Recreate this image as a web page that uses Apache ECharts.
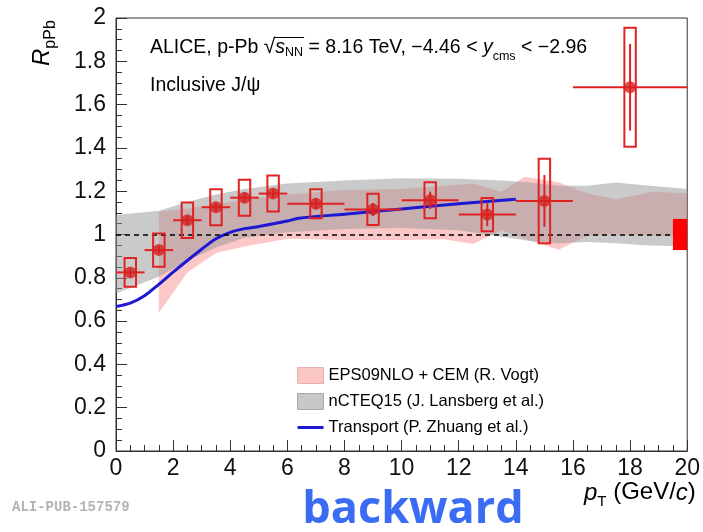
<!DOCTYPE html>
<html><head><meta charset="utf-8">
<script src="https://cdn.jsdelivr.net/npm/echarts@6/dist/echarts.min.js"></script>
<style>html,body{margin:0;padding:0;background:#fff}#c{width:703px;height:532px}</style>
</head><body><div id="c"></div>
<script>
// ---- data ----
const ptCenters = [0.5, 1.5, 2.5, 3.5, 4.5, 5.5, 7, 9, 11, 13, 15, 18];
const ptLow     = [0, 1, 2, 3, 4, 5, 6, 8, 10, 12, 14, 16];
const ptHigh    = [1, 2, 3, 4, 5, 6, 8, 10, 12, 14, 16, 20];
const rpPb      = [0.825, 0.928, 1.066, 1.126, 1.170, 1.189, 1.142, 1.116, 1.158, 1.092, 1.155, 1.680];
const statErr   = [0.02, 0.02, 0.02, 0.02, 0.02, 0.02, 0.025, 0.03, 0.04, 0.053, 0.12, 0.2];
const sysErr    = [0.066, 0.077, 0.082, 0.083, 0.083, 0.083, 0.067, 0.072, 0.083, 0.077, 0.195, 0.275];
const globalUnc = 0.072;

const transportX = [0, 0.5, 1, 1.5, 2, 2.5, 3, 3.5, 4, 4.5, 5, 6, 6.4, 8, 10, 12, 14];
const transportY = [0.667, 0.683, 0.717, 0.77, 0.826, 0.88, 0.932, 0.98, 1.01, 1.027, 1.037, 1.062, 1.075, 1.094, 1.118, 1.142, 1.163];

const ncteqX  = [0, 1.5, 2.5, 3.5, 4.5, 6, 8, 10, 12, 13.5, 14.5, 15.5, 16.5, 17.5, 18.5, 20];
const ncteqLo = [0.728, 0.805, 0.88, 0.94, 0.985, 1.01, 1.025, 1.03, 1.02, 0.99, 0.97, 0.96, 0.965, 0.96, 0.95, 0.944];
const ncteqHi = [1.09, 1.11, 1.15, 1.185, 1.21, 1.235, 1.25, 1.26, 1.258, 1.25, 1.24, 1.225, 1.225, 1.24, 1.228, 1.21];

const epsX  = [1.5, 2.5, 3.5, 4.5, 6, 8, 10, 11.5, 12.5, 13.5, 14.3, 15.5, 16.5, 17.5, 18.8, 20];
const epsLo = [0.638, 0.825, 0.915, 0.945, 0.98, 0.975, 0.975, 0.978, 0.956, 1.02, 0.98, 0.93, 0.995, 1.0, 0.995, 0.99];
const epsHi = [1.105, 1.12, 1.14, 1.16, 1.185, 1.205, 1.21, 1.225, 1.235, 1.198, 1.267, 1.24, 1.19, 1.163, 1.198, 1.19];

const xTicks = [0, 2, 4, 6, 8, 10, 12, 14, 16, 18, 20];
const yTicks = [0, 0.2, 0.4, 0.6, 0.8, 1, 1.2, 1.4, 1.6, 1.8, 2];

const legendNames = ['EPS09NLO + CEM (R. Vogt)', 'nCTEQ15 (J. Lansberg et al.)', 'Transport (P. Zhuang et al.)'];

// ---- styles ----
const FONT = 'Liberation Sans, Arial, Helvetica, sans-serif';
const RED_LINE = '#e02222';
const RED_MARK = '#d42020';
const BLUE = '#1c18d4';
const BOX_HALF = 0.2;
const PINK = 'rgba(244,100,100,0.36)';
const GREY = 'rgba(150,150,150,0.5)';

const ctx = document.createElement('canvas').getContext('2d');
function measure(t, size, italic, family) {
  ctx.font = (italic ? 'italic ' : '') + size + 'px ' + (family || FONT);
  return ctx.measureText(t).width;
}
function pieces(x, baseline, list) {
  const out = []; let cx = x; const pos = [];
  list.forEach(p => {
    const w = measure(p.t, p.s, p.i);
    pos.push({x0: cx, x1: cx + w});
    out.push({type: 'text', x: cx, y: baseline + (p.dy || 0) - 0.34 * p.s,
      style: {text: p.t, font: (p.i ? 'italic ' : '') + p.s + 'px ' + FONT, fill: p.c || '#000',
        align: 'left', verticalAlign: 'middle'}, silent: true});
    cx += w;
  });
  return {els: out, pos};
}

function bandSeries(name, xs, lo, hi, color, z) {
  const pts = xs.map((x, i) => [x, lo[i], hi[i]]);
  return {
    type: 'custom', name, z, coordinateSystem: 'cartesian2d', data: pts,
    encode: {x: 0, y: [1, 2]}, itemStyle: {color}, silent: true,
    renderItem(params, api) {
      if (params.dataIndex !== 0) return null;
      const up = pts.map(p => api.coord([p[0], p[2]]));
      const dn = pts.map(p => api.coord([p[0], p[1]])).reverse();
      return {type: 'polygon', shape: {points: up.concat(dn)}, style: {fill: color}};
    }
  };
}

const chart = echarts.init(document.getElementById('c'), null, {renderer: 'canvas'});

const t1 = pieces(150, 54, [
  {t: 'ALICE, p-Pb ', s: 19.5},
  {t: '\u221A', s: 21},
  {t: 's', s: 19.5, i: true},
  {t: 'NN', s: 12.5, dy: 3},
  {t: ' = 8.16 TeV, \u22124.46 < ', s: 19.5},
  {t: 'y', s: 19.5, i: true},
  {t: 'cms', s: 12.5, dy: 7},
  {t: ' < \u22122.96', s: 19.5}
]);
const ol = {type: 'line', shape: {x1: t1.pos[1].x1 - 1, y1: 37.5, x2: t1.pos[3].x1 + 1, y2: 37.5},
  style: {stroke: '#000', lineWidth: 1}, silent: true};
const t2 = pieces(150, 92, [{t: 'Inclusive J/\u03C8', s: 19.5}]);
const xt = pieces(584, 501, [
  {t: 'p', s: 24, i: true}, {t: 'T', s: 15, dy: 6}, {t: ' (GeV/', s: 24}, {t: 'c', s: 24, i: true}, {t: ')', s: 24}
]);
const yt = pieces(0, 0, [{t: 'R', s: 24, i: true}, {t: 'pPb', s: 16, dy: 6}]);

const option = {
  animation: false,
  backgroundColor: '#fff',
  grid: {left: 116, right: 9, top: 18, bottom: 81, show: true, borderColor: '#333', borderWidth: 1},
  xAxis: {
    type: 'value', min: xTicks[0], max: xTicks[xTicks.length - 1], interval: xTicks[1] - xTicks[0],
    axisLine: {show: true, lineStyle: {color: '#333', width: 1}},
    axisTick: {show: true, inside: true, length: 11, lineStyle: {color: '#333'}},
    minorTick: {show: true, splitNumber: 4, length: 6, lineStyle: {color: '#333'}},
    splitLine: {show: false},
    axisLabel: {fontSize: 23, fontFamily: FONT, color: '#111', margin: 6, showMinLabel: true, showMaxLabel: true,
      formatter: v => String(v)}
  },
  yAxis: {
    type: 'value', min: yTicks[0], max: yTicks[yTicks.length - 1], interval: 0.2,
    axisLine: {show: true, lineStyle: {color: '#333', width: 1}},
    axisTick: {show: true, inside: true, length: 11, lineStyle: {color: '#333'}},
    minorTick: {show: true, splitNumber: 4, length: 6, lineStyle: {color: '#333'}},
    splitLine: {show: false},
    axisLabel: {fontSize: 23, fontFamily: FONT, color: '#111', margin: 10, showMinLabel: true, showMaxLabel: true,
      formatter: v => String(+v.toFixed(1))}
  },
  legend: {
    orient: 'vertical', left: 292, top: 362, itemWidth: 26, itemHeight: 16, itemGap: 9,
    textStyle: {fontSize: 16.5, fontFamily: FONT, color: '#000'},
    selectedMode: false, symbolKeepAspect: true,
    data: [
      {name: legendNames[0], icon: 'rect', itemStyle: {color: '#fac6c6', borderColor: '#e8b0b0', borderWidth: 1}},
      {name: legendNames[1], icon: 'rect', itemStyle: {color: '#c8c8c8', borderColor: '#a8a8a8', borderWidth: 1}},
      {name: legendNames[2], icon: 'path://M0 0H26V3H0Z', itemStyle: {color: BLUE, borderWidth: 0}}
    ]
  },
  series: [
    bandSeries(legendNames[0], epsX, epsLo, epsHi, PINK, 1),
    bandSeries(legendNames[1], ncteqX, ncteqLo, ncteqHi, GREY, 2),
    {
      type: 'line', name: 'ref', data: [], z: 3, silent: true,
      markLine: {silent: true, symbol: 'none', label: {show: false},
        lineStyle: {type: [5, 4], color: '#000', width: 1.6}, data: [{yAxis: 1}]}
    },
    {
      type: 'line', name: legendNames[2], z: 4, showSymbol: false, symbol: 'none', smooth: 0.3,
      data: transportX.map((x, i) => [x, transportY[i]]),
      lineStyle: {color: BLUE, width: 3}, itemStyle: {color: BLUE}
    },
    {
      type: 'custom', name: 'errors', z: 5, silent: true,
      data: ptCenters.map((x, i) => [x, rpPb[i], ptLow[i], ptHigh[i], statErr[i], sysErr[i]]),
      encode: {x: 0, y: 1},
      renderItem(params, api) {
        const x = api.value(0), y = api.value(1), xl = api.value(2), xh = api.value(3), st = api.value(4), sy = api.value(5);
        const l = api.coord([xl, y]), h = api.coord([xh, y]);
        const s1 = api.coord([x, y + st]), s0 = api.coord([x, y - st]);
        const b0 = api.coord([x - BOX_HALF, y + sy]), b1 = api.coord([x + BOX_HALF, y - sy]);
        return {type: 'group', children: [
          {type: 'line', shape: {x1: l[0], y1: l[1], x2: h[0], y2: h[1]}, style: {stroke: RED_LINE, lineWidth: 2}},
          {type: 'line', shape: {x1: s0[0], y1: s0[1], x2: s1[0], y2: s1[1]}, style: {stroke: RED_LINE, lineWidth: 2}},
          {type: 'rect', shape: {x: b0[0], y: b0[1], width: b1[0] - b0[0], height: b1[1] - b0[1]},
            style: {fill: 'none', stroke: RED_LINE, lineWidth: 2}}
        ]};
      }
    },
    {
      type: 'scatter', name: 'ALICE', z: 6, symbol: 'circle', symbolSize: 12, silent: true,
      data: ptCenters.map((x, i) => [x, rpPb[i]]), itemStyle: {color: RED_MARK}
    },
    {
      type: 'custom', name: 'global', z: 6, silent: true, data: [[19.5, 20, 1 - globalUnc, 1 + globalUnc]],
      encode: {x: [0, 1], y: [2, 3]},
      renderItem(params, api) {
        const a = api.coord([api.value(0), api.value(3)]), b = api.coord([api.value(1), api.value(2)]);
        return {type: 'rect', shape: {x: a[0], y: a[1], width: b[0] - a[0], height: b[1] - a[1]}, style: {fill: '#ff0000'}};
      }
    }
  ],
  graphic: [].concat(t1.els, [ol], t2.els, xt.els,
    [{type: 'group', x: 50, y: 66, rotation: Math.PI / 2, children: yt.els},
     {type: 'text', left: 12, top: 500, style: {text: 'ALI-PUB-157579', font: 'bold 14px Liberation Mono, DejaVu Sans Mono, monospace', fill: '#b4b4b4'}, silent: true},
     {type: 'text', x: 413, y: 510, style: {text: 'backward', font: 'bold 45px Open Sans, Lato, sans-serif', fill: '#3a6cf4', align: 'center', verticalAlign: 'middle'}, silent: true}
    ])
};
chart.setOption(option);
</script>
</body></html>
